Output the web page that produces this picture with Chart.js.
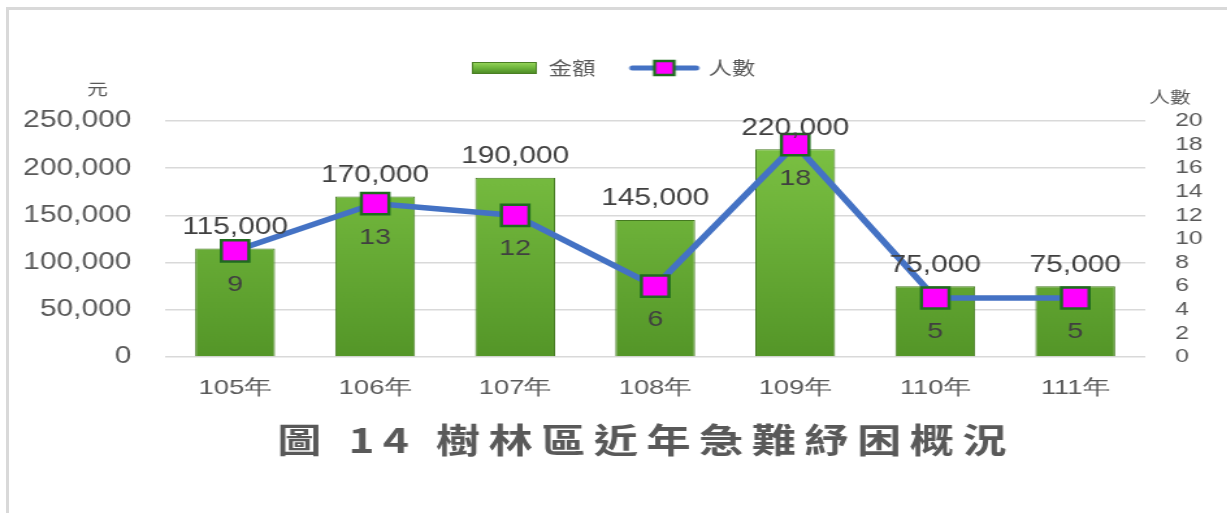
<!DOCTYPE html>
<html>
<head>
<meta charset="utf-8">
<script src="https://cdn.jsdelivr.net/npm/chart.js@4.4.1/dist/chart.umd.min.js"></script>
<style>
  html, body { margin: 0; padding: 0; background: #fff; overflow: hidden; }
  #frame { position: absolute; left: 6px; top: 7px; width: 1219px; height: 520px;
           border-top: 3px solid #d9d9d9; border-left: 3px solid #d9d9d9; border-right: 1px solid #eeeeee; }
  #wrap { position: absolute; left: 0; top: 0; width: 944px; height: 513px;
          transform: scaleX(1.3); transform-origin: 0 0; }
</style>
</head>
<body>
<div id="wrap"><canvas id="grafico" width="944" height="513"></canvas></div>
<div id="frame"></div>
<script>
const anos = ['105年', '106年', '107年', '108年', '109年', '110年', '111年'];
const valores = [115000, 170000, 190000, 145000, 220000, 75000, 75000];
const pessoas = [9, 13, 12, 6, 18, 5, 5];
const eixoValorMax = 250000, eixoValorPasso = 50000;
const eixoPessoasMax = 20, eixoPessoasPasso = 2;
const titulo = '圖 14 樹林區近年急難紓困概況';

const cinza = '#595959';
const numFont = 'Liberation Sans';
const cjkFont = 'Noto Sans CJK TC';

// legend symbols
function simboloBarra() {
  const c = document.createElement('canvas');
  c.width = 50; c.height = 12;
  const g = c.getContext('2d');
  const gr = g.createLinearGradient(0, 0, 0, 12);
  gr.addColorStop(0, '#9ad85e'); gr.addColorStop(0.5, '#6db53b'); gr.addColorStop(1, '#4a8523');
  g.fillStyle = gr; g.fillRect(0, 0, 50, 12);
  g.strokeStyle = '#4a7f24'; g.lineWidth = 1; g.strokeRect(0.5, 0.5, 49, 11);
  return c;
}
function simboloLinha() {
  const c = document.createElement('canvas');
  c.width = 57; c.height = 20;
  const g = c.getContext('2d');
  g.strokeStyle = '#4472c4'; g.lineWidth = 5; g.lineCap = 'round';
  g.beginPath(); g.moveTo(4, 10); g.lineTo(53, 10); g.stroke();
  g.fillStyle = '#ff00ff'; g.fillRect(21, 3, 15, 14);
  g.strokeStyle = '#1f6b1f'; g.lineWidth = 2.5; g.strokeRect(21, 3, 15, 14);
  return c;
}

// extra gap under the legend
const espacoLegenda = {
  id: 'espacoLegenda',
  beforeUpdate(chart) {
    const leg = chart.legend;
    if (leg && !leg._patched) {
      const fit = leg.fit;
      leg.fit = function () { fit.call(this); this.height += 34; };
      leg._patched = true;
    }
  }
};

// value labels, axis titles and caption
const rotulos = {
  id: 'rotulos',
  afterDatasetsDraw(chart) {
    const ctx = chart.ctx;
    const area = chart.chartArea;
    ctx.save();
    ctx.textAlign = 'center';
    ctx.textBaseline = 'middle';
    ctx.fillStyle = '#404040';
    ctx.font = `23px "${numFont}"`;
    chart.getDatasetMeta(0).data.forEach((bar, i) => {
      ctx.fillText(valores[i].toLocaleString('en-US'), bar.x, bar.y - 21);
    });
    ctx.font = `22px "${numFont}"`;
    chart.getDatasetMeta(1).data.forEach((pt, i) => {
      ctx.fillText(String(pessoas[i]), pt.x, pt.y + 34);
    });

    ctx.fillStyle = cinza;
    ctx.font = `16px "${cjkFont}"`;
    ctx.fillText('元', area.left - 52, area.top - 32);
    ctx.fillText('人數', area.right + 19, area.top - 24);

    ctx.font = `bold 34px "${cjkFont}"`;
    ctx.letterSpacing = '6.5px';
    ctx.fillText(titulo, (area.left + area.right) / 2 - 7, chart.height - 73);
    ctx.restore();
  }
};

const ctx = document.getElementById('grafico').getContext('2d');
const gradBarra = ctx.createLinearGradient(0, 120, 0, 355);
gradBarra.addColorStop(0, '#80c646');
gradBarra.addColorStop(1, '#549628');

new Chart(ctx, {
  type: 'bar',
  data: {
    labels: anos,
    datasets: [
      {
        type: 'bar', label: '金額', data: valores, yAxisID: 'y', order: 1,
        backgroundColor: gradBarra, borderColor: '#457a20', borderWidth: 1,
        barPercentage: 0.57, categoryPercentage: 1
      },
      {
        type: 'line', label: '人數', data: pessoas, yAxisID: 'y1', order: 0,
        borderColor: '#4472c4', borderWidth: 5.5, tension: 0,
        pointStyle: 'rect', pointRadius: 15, pointBackgroundColor: '#ff00ff',
        pointBorderColor: '#1f6b1f', pointBorderWidth: 2.5
      }
    ]
  },
  options: {
    responsive: false,
    animation: false,
    layout: { padding: { top: 31, bottom: 104, left: 0, right: 0 } },
    plugins: {
      tooltip: { enabled: false },
      legend: {
        position: 'top',
        labels: {
          usePointStyle: true, pointStyleWidth: 50, boxHeight: 18, padding: 28,
          color: cinza, font: { family: cjkFont, size: 18 },
          generateLabels() {
            return [
              { text: '金額', pointStyle: simboloBarra(), datasetIndex: 0, hidden: false, fontColor: cinza, lineWidth: 0, strokeStyle: 'transparent', fillStyle: 'transparent' },
              { text: '人數', pointStyle: simboloLinha(), datasetIndex: 1, hidden: false, fontColor: cinza, lineWidth: 0, strokeStyle: 'transparent', fillStyle: 'transparent' }
            ];
          }
        }
      }
    },
    scales: {
      x: {
        grid: { display: false },
        border: { display: false },
        ticks: { color: cinza, font: { family: numFont, size: 21 }, padding: 11 },
        afterFit(s) { s.height = 52; }
      },
      y: {
        position: 'left', min: 0, max: eixoValorMax,
        grid: { color: '#d9d9d9', lineWidth: 1.5, drawTicks: false },
        border: { display: false },
        ticks: { stepSize: eixoValorPasso, color: cinza, padding: 26,
                 font: { family: numFont, size: 23 },
                 callback: v => v.toLocaleString('en-US') },
        afterFit(s) { s.width = 127; }
      },
      y1: {
        position: 'right', min: 0, max: eixoPessoasMax,
        grid: { display: false, drawTicks: false },
        border: { display: false },
        ticks: { stepSize: eixoPessoasPasso, autoSkip: false, color: cinza, padding: 23,
                 font: { family: numFont, size: 19, lineHeight: 1 } },
        afterFit(s) { s.width = 63; }
      }
    }
  },
  plugins: [espacoLegenda, rotulos]
});
</script>
</body>
</html>
